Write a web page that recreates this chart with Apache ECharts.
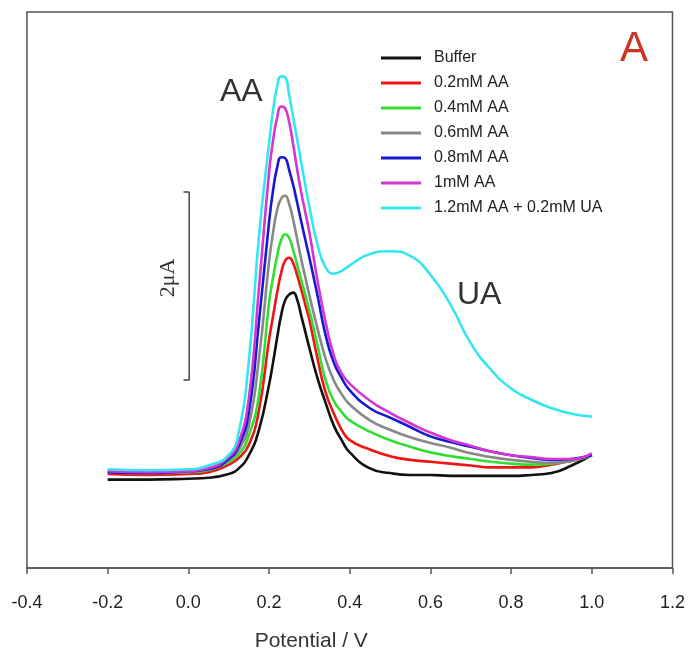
<!DOCTYPE html>
<html>
<head>
<meta charset="utf-8">
<script src="https://cdn.jsdelivr.net/npm/echarts@6/dist/echarts.min.js"></script>
<style>
html,body{margin:0;padding:0;background:#fff;}
#chart{width:688px;height:658px;}
</style>
</head>
<body>
<div id="chart"></div>
<script>
// Potential (V)
const potential = [-0.2,-0.1,0.0,0.05,0.1,0.125,0.15,0.175,0.2,0.21,0.22,0.23,0.24,0.25,0.26,0.27,0.28,0.29,0.3,0.32,0.34,0.36,0.38,0.4,0.45,0.5,0.55,0.6,0.65,0.7,0.75,0.8,0.85,0.9,0.95,1.0];
// Current (μA, arbitrary offset)
const buffer   = [0.94,0.94,0.95,0.96,1.00,1.06,1.20,1.47,1.95,2.19,2.45,2.69,2.85,2.91,2.93,2.85,2.68,2.51,2.34,2.02,1.76,1.52,1.36,1.23,1.06,1.01,0.99,0.99,0.98,0.98,0.98,0.98,0.99,1.01,1.09,1.20];
const aa02     = [1.00,0.99,1.00,1.02,1.10,1.17,1.31,1.68,2.43,2.68,2.93,3.14,3.27,3.30,3.24,3.11,2.96,2.80,2.64,2.23,1.87,1.65,1.47,1.36,1.26,1.19,1.15,1.13,1.11,1.09,1.07,1.07,1.07,1.10,1.14,1.20];
const aa04     = [1.02,1.01,1.02,1.04,1.13,1.21,1.41,1.84,2.82,3.09,3.32,3.49,3.55,3.51,3.38,3.22,3.06,2.90,2.74,2.37,2.00,1.78,1.66,1.57,1.45,1.36,1.29,1.23,1.19,1.16,1.13,1.11,1.10,1.11,1.14,1.20];
const aa06     = [1.02,1.01,1.02,1.05,1.15,1.26,1.52,2.23,3.26,3.57,3.81,3.93,3.96,3.87,3.70,3.49,3.28,3.09,2.90,2.55,2.23,2.00,1.85,1.74,1.57,1.47,1.39,1.33,1.28,1.22,1.18,1.15,1.13,1.12,1.14,1.20];
const aa08     = [1.02,1.01,1.03,1.05,1.16,1.30,1.66,2.62,3.68,4.02,4.26,4.37,4.36,4.23,4.07,3.88,3.68,3.49,3.30,2.90,2.48,2.19,2.02,1.89,1.70,1.60,1.50,1.40,1.34,1.29,1.24,1.20,1.17,1.15,1.16,1.20];
const aa10     = [1.03,1.02,1.03,1.06,1.18,1.34,1.81,2.98,4.21,4.55,4.79,4.91,4.89,4.74,4.50,4.23,3.99,3.78,3.57,3.06,2.62,2.27,2.07,1.96,1.78,1.65,1.54,1.44,1.36,1.30,1.24,1.20,1.18,1.16,1.16,1.22];
const aa12ua02 = [1.05,1.04,1.05,1.09,1.20,1.45,2.21,3.53,4.52,4.87,5.12,5.23,5.22,5.03,4.79,4.55,4.31,4.07,3.84,3.44,3.20,3.13,3.16,3.22,3.34,3.37,3.32,3.12,2.80,2.39,2.11,1.91,1.79,1.70,1.64,1.61];

const seriesNames = ['Buffer','0.2mM AA','0.4mM AA','0.6mM AA','0.8mM AA','1mM AA','1.2mM AA + 0.2mM UA'];
const seriesData = [buffer, aa02, aa04, aa06, aa08, aa10, aa12ua02];
const seriesColors = ['#111111','#f01414','#33dd33','#888888','#1818d0','#d435d4','#35e6ee'];

// x-axis ticks
const xMin = -0.4, xMax = 1.2, xStep = 0.2;
// scale bar: 2 μA
const scaleBarX = 0.002, scaleBarTickX = -0.012, scaleBarLow = 2.0, scaleBarHigh = 4.0;

const chart = echarts.init(document.getElementById('chart'), null, {renderer:'canvas'});

const series = seriesNames.map((name, i) => ({
  name: name,
  type: 'line',
  data: potential.map((p, j) => [p, seriesData[i][j]]),
  showSymbol: false,
  smooth: 0.5,
  lineStyle: {color: seriesColors[i], width: 2.6},
  itemStyle: {color: seriesColors[i]},
  emphasis: {disabled: true},
  z: 3 + i
}));

series.push({
  name: 'scalebar',
  type: 'line',
  data: [[scaleBarTickX, scaleBarLow],[scaleBarX, scaleBarLow],[scaleBarX, scaleBarHigh],[scaleBarTickX, scaleBarHigh]],
  showSymbol: false,
  lineStyle: {color: '#444', width: 1.5},
  silent: true,
  z: 2
});

const option = {
  animation: false,
  backgroundColor: '#fff',
  grid: {left: 27, right: 12, top: 12, bottom: 90, show: true, borderColor: '#555', borderWidth: 1.5, backgroundColor: 'transparent'},
  xAxis: {
    type: 'value', min: xMin, max: xMax, interval: xStep,
    axisLine: {show: true, lineStyle: {color: '#555', width: 1.5}},
    axisTick: {show: true, inside: false, length: 6, lineStyle: {color: '#555', width: 1.5}},
    splitLine: {show: false},
    axisLabel: {
      margin: 26, fontSize: 18, color: '#222', fontFamily: 'Liberation Sans',
      formatter: v => v.toFixed(1)
    },
    name: 'Potential / V', nameLocation: 'middle', nameGap: 63,
    nameTextStyle: {fontSize: 21, color: '#333', fontFamily: 'Liberation Sans', padding: [0, 77, 0, 0]}
  },
  yAxis: {
    type: 'value', min: 0, max: 5.915,
    axisLine: {show: false}, axisTick: {show: false}, axisLabel: {show: false}, splitLine: {show: false}
  },
  legend: {
    data: seriesNames,
    orient: 'vertical', left: 376, top: 45,
    icon: 'rect', itemWidth: 40, itemHeight: 3, itemGap: 9,
    textStyle: {fontSize: 16, color: '#222', fontFamily: 'Liberation Sans', padding: [0,0,0,8]},
    selectedMode: false
  },
  graphic: [
    {type: 'text', left: 220, top: 76, style: {text: 'AA', fontSize: 32, fill: '#333', fontFamily: 'Liberation Sans'}},
    {type: 'text', left: 457, top: 279, style: {text: 'UA', fontSize: 32, fill: '#333', fontFamily: 'Liberation Sans'}},
    {type: 'text', left: 620, top: 28, style: {text: 'A', fontSize: 42, fill: '#cc3322', fontFamily: 'Liberation Sans'}},
    {type: 'text', x: 168, y: 278, rotation: Math.PI/2, style: {text: '2μA', fontSize: 22, fill: '#333', fontFamily: 'Liberation Serif', align: 'center', verticalAlign: 'middle'}}
  ],
  series: series
};
chart.setOption(option);
</script>
</body>
</html>
